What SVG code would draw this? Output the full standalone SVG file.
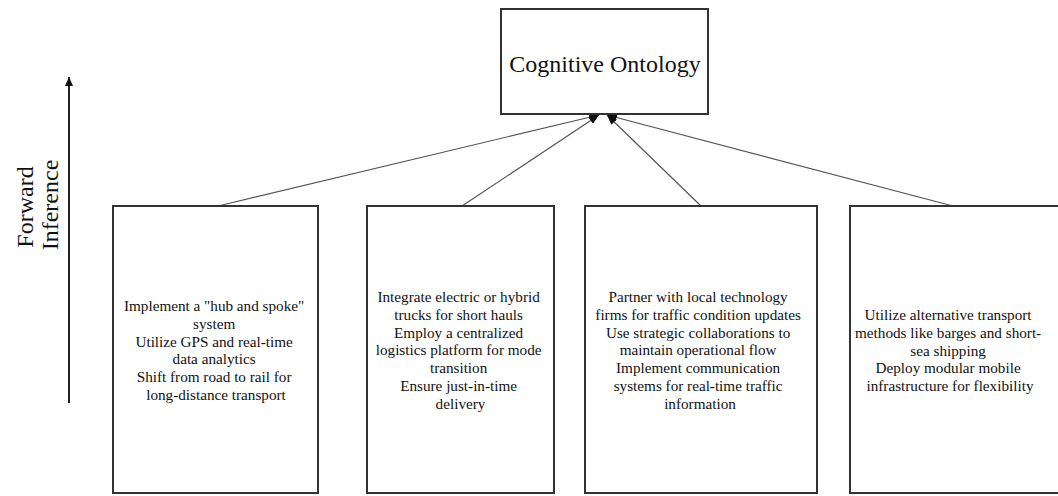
<svg xmlns="http://www.w3.org/2000/svg" width="1058" height="496" viewBox="0 0 1058 496">
  <style>
    .box { fill: #ffffff; stroke: #333333; stroke-width: 2; }
    .txt { font-family: "Liberation Serif", "Times New Roman", serif; font-size: 15.2px; fill: #111111; text-anchor: middle; }
    .title { font-family: "Liberation Serif", "Times New Roman", serif; font-size: 24px; fill: #111111; text-anchor: middle; }
    .side { font-family: "Liberation Serif", "Times New Roman", serif; font-size: 24px; fill: #111111; text-anchor: middle; }
    .edge { stroke: #555555; stroke-width: 1.2; fill: none; }
  </style>
  <defs>
    <marker id="head" markerWidth="10" markerHeight="8" refX="10" refY="4" orient="auto" markerUnits="userSpaceOnUse">
      <path d="M0,0 L10,4 L0,8 Z" fill="#111111"/>
    </marker>
    <marker id="up" markerWidth="9" markerHeight="8" refX="9" refY="4" orient="auto" markerUnits="userSpaceOnUse">
      <path d="M0,0 L9,4 L0,8 Z" fill="#111111"/>
    </marker>
  </defs>
  <rect width="1058" height="496" fill="#ffffff"/>

  <!-- Forward inference axis -->
  <g id="axis">
    <line x1="69" y1="403" x2="69" y2="77" stroke="#222222" stroke-width="2" marker-end="url(#up)"/>
    <text class="side" transform="translate(33,207) rotate(-90)">Forward</text>
    <text class="side" transform="translate(58,205) rotate(-90)">Inference</text>
  </g>

  <!-- Connectors -->
  <g id="connectors">
    <line class="edge" x1="218" y1="206" x2="599" y2="115" marker-end="url(#head)"/>
    <line class="edge" x1="462" y1="206" x2="599" y2="115" marker-end="url(#head)"/>
    <line class="edge" x1="701" y1="206" x2="607" y2="115" marker-end="url(#head)"/>
    <line class="edge" x1="953" y1="206" x2="607" y2="115" marker-end="url(#head)"/>
  </g>

  <g id="ontology">
    <rect class="box" x="501" y="9" width="207" height="105"/>
    <text class="title" x="605" y="72">Cognitive Ontology</text>
  </g>

  <g id="node1">
    <rect class="box" x="113" y="206" width="205" height="287"/>
    <text class="txt" x="216" y="311">
      <tspan x="216">Implement a "hub and spoke"</tspan>
      <tspan x="216" dy="17.8">system</tspan>
      <tspan x="216" dy="17.8">Utilize GPS and real-time</tspan>
      <tspan x="216" dy="17.8">data analytics</tspan>
      <tspan x="216" dy="17.8">Shift from road to rail for</tspan>
      <tspan x="216" dy="17.8">long-distance transport</tspan>
    </text>
  </g>

  <g id="node2">
    <rect class="box" x="367" y="206" width="187" height="287"/>
    <text class="txt" x="460.5" y="302">
      <tspan x="460.5">Integrate electric or hybrid</tspan>
      <tspan x="460.5" dy="17.8">trucks for short hauls</tspan>
      <tspan x="460.5" dy="17.8">Employ a centralized</tspan>
      <tspan x="460.5" dy="17.8">logistics platform for mode</tspan>
      <tspan x="460.5" dy="17.8">transition</tspan>
      <tspan x="460.5" dy="17.8">Ensure just-in-time</tspan>
      <tspan x="460.5" dy="17.8">delivery</tspan>
    </text>
  </g>

  <g id="node3">
    <rect class="box" x="585" y="206" width="232" height="287"/>
    <text class="txt" x="700" y="302">
      <tspan x="700">Partner with local technology</tspan>
      <tspan x="700" dy="17.8">firms for traffic condition updates</tspan>
      <tspan x="700" dy="17.8">Use strategic collaborations to</tspan>
      <tspan x="700" dy="17.8">maintain operational flow</tspan>
      <tspan x="700" dy="17.8">Implement communication</tspan>
      <tspan x="700" dy="17.8">systems for real-time traffic</tspan>
      <tspan x="700" dy="17.8">information</tspan>
    </text>
  </g>

  <g id="node4">
    <rect class="box" x="850" y="206" width="215" height="287"/>
    <text class="txt" x="950" y="320">
      <tspan x="950">Utilize alternative transport</tspan>
      <tspan x="950" dy="17.8">methods like barges and short-</tspan>
      <tspan x="950" dy="17.8">sea shipping</tspan>
      <tspan x="950" dy="17.8">Deploy modular mobile</tspan>
      <tspan x="950" dy="17.8">infrastructure for flexibility</tspan>
    </text>
  </g>
</svg>
